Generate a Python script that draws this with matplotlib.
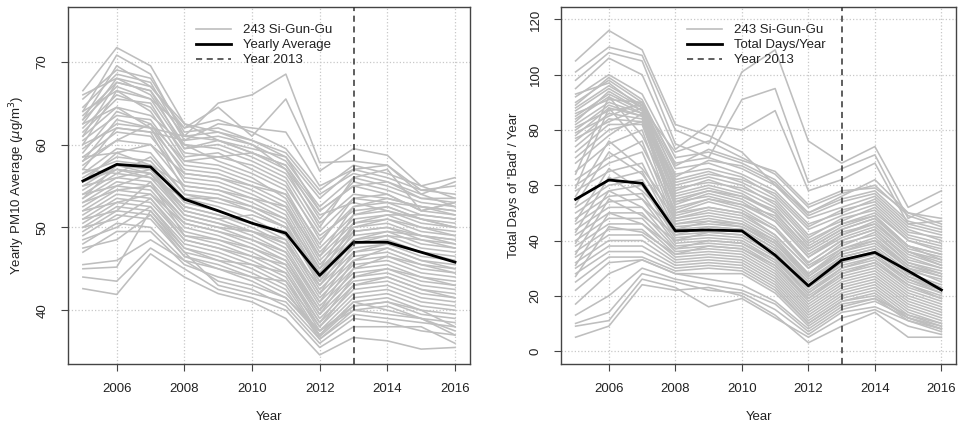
import numpy as np
import matplotlib
matplotlib.use('Agg')
import matplotlib.pyplot as plt
from matplotlib.lines import Line2D

plt.rcParams['font.family'] = ['Liberation Sans', 'DejaVu Sans']

# data
years = list(range(2005, 2017))
xticks = [2006, 2008, 2010, 2012, 2014, 2016]

pm10_mean = [55.6, 57.6, 57.3, 53.4, 52.0, 50.5, 49.3, 44.2, 48.2, 48.2, 47.0, 45.8]
bad_mean = [54.9, 61.9, 60.7, 43.5, 43.8, 43.5, 34.7, 23.6, 32.9, 35.7, 29.0, 22.1]

# a sample of the 243 district lines
pm10_lines = [
    [66.5, 71.7, 69.5, 62.5, 60.5, 59.0, 57.5, 52.0, 55.0, 54.0, 52.0, 53.0],
    [64.0, 70.8, 68.5, 61.0, 65.0, 66.0, 68.5, 57.8, 58.0, 57.5, 54.0, 55.5],
    [63.0, 69.5, 67.0, 62.0, 64.5, 61.0, 65.5, 56.8, 59.5, 58.7, 55.0, 56.0],
    [42.6, 41.9, 46.8, 44.0, 42.0, 41.0, 39.0, 34.6, 36.7, 36.3, 35.3, 35.5],
    [44.0, 43.5, 47.5, 45.0, 42.5, 41.5, 40.0, 35.5, 38.0, 38.0, 38.0, 36.0],
    [45.5, 46.0, 48.5, 46.0, 43.5, 42.5, 40.5, 36.0, 39.0, 38.5, 37.5, 37.0],
    [45.0, 45.2, 52.0, 47.0, 43.0, 42.0, 41.0, 36.5, 39.5, 39.0, 38.5, 38.0],
    [65.5, 69.0, 68.0, 61.5, 62.0, 60.5, 58.5, 53.5, 57.0, 56.0, 54.5, 54.0],
    [64.5, 68.5, 67.5, 60.5, 61.0, 60.0, 58.0, 52.5, 56.0, 55.0, 53.5, 53.5],
    [63.5, 67.5, 66.5, 61.0, 60.5, 59.0, 57.5, 51.0, 55.5, 54.5, 53.0, 52.5],
    [63.0, 67.0, 65.5, 59.5, 60.0, 58.5, 56.5, 50.5, 54.0, 53.5, 52.5, 52.0],
    [62.5, 68.0, 66.0, 60.0, 59.5, 58.0, 56.0, 49.5, 53.5, 54.0, 52.0, 51.5],
    [62.0, 66.0, 64.5, 59.0, 58.5, 57.5, 55.5, 48.5, 52.5, 53.0, 51.5, 51.0],
    [61.5, 65.5, 65.0, 58.5, 59.0, 57.0, 55.0, 49.0, 52.0, 52.5, 51.0, 50.5],
    [61.0, 64.5, 63.5, 60.0, 58.0, 56.5, 54.5, 47.5, 51.5, 52.0, 50.5, 50.0],
    [60.5, 63.5, 63.0, 57.5, 57.0, 55.5, 54.0, 47.0, 51.0, 51.5, 50.0, 49.5],
    [60.0, 66.5, 64.0, 58.0, 57.5, 56.0, 53.5, 46.5, 50.5, 51.0, 49.5, 49.0],
    [59.5, 62.5, 62.0, 57.0, 56.5, 55.0, 53.0, 46.0, 50.0, 50.5, 49.0, 48.5],
    [59.0, 64.0, 62.5, 56.5, 56.0, 54.5, 52.5, 45.5, 49.5, 50.0, 48.5, 48.0],
    [58.5, 61.5, 61.0, 56.0, 55.5, 54.0, 52.0, 45.0, 49.0, 49.5, 48.0, 47.5],
    [58.0, 63.0, 62.0, 55.5, 55.0, 53.5, 51.5, 44.5, 48.5, 49.0, 47.5, 47.0],
    [57.5, 60.5, 60.0, 55.0, 54.5, 53.0, 51.0, 44.0, 48.0, 48.5, 47.0, 46.5],
    [57.0, 62.0, 61.5, 54.5, 54.0, 52.5, 50.5, 43.5, 47.5, 48.0, 46.5, 46.0],
    [56.5, 59.5, 59.0, 54.0, 53.5, 52.0, 50.0, 43.0, 47.0, 47.5, 46.0, 45.5],
    [64.0, 66.5, 65.5, 62.0, 63.0, 61.5, 59.5, 54.5, 57.5, 56.5, 55.0, 53.5],
    [62.5, 64.5, 62.0, 61.0, 61.5, 60.5, 59.0, 54.0, 56.5, 55.5, 54.0, 52.5],
    [61.0, 67.5, 66.5, 59.5, 60.5, 59.5, 58.5, 52.0, 55.0, 55.5, 53.5, 53.0],
    [66.0, 68.0, 67.0, 62.5, 61.5, 60.0, 57.0, 51.5, 53.0, 52.0, 51.0, 50.0],
    [60.0, 62.0, 61.5, 60.5, 62.5, 62.0, 61.5, 55.0, 57.0, 57.5, 54.5, 55.0],
    [58.0, 60.5, 62.5, 58.0, 58.5, 59.0, 57.0, 50.0, 56.0, 57.0, 52.0, 53.0],
    [56.0, 58.5, 58.0, 53.5, 52.5, 51.0, 49.0, 42.5, 46.5, 47.0, 45.5, 45.0],
    [55.5, 59.0, 57.5, 53.0, 52.0, 50.5, 48.5, 42.0, 46.0, 46.5, 45.0, 44.5],
    [55.0, 57.5, 57.0, 52.5, 51.5, 50.0, 48.0, 41.5, 45.5, 46.0, 44.5, 44.0],
    [54.5, 57.0, 56.5, 52.0, 51.0, 49.5, 47.5, 41.0, 45.0, 45.5, 44.0, 43.5],
    [54.0, 56.5, 56.0, 51.5, 50.5, 49.0, 47.0, 40.5, 44.5, 45.0, 43.5, 43.0],
    [53.5, 56.0, 55.5, 51.0, 50.0, 48.5, 46.5, 40.0, 44.0, 44.5, 43.0, 42.5],
    [53.0, 55.5, 55.0, 50.5, 49.5, 48.0, 46.0, 39.5, 43.5, 44.0, 42.5, 42.0],
    [52.5, 55.0, 54.5, 50.0, 49.0, 47.5, 45.5, 39.0, 43.0, 43.5, 42.0, 41.5],
    [52.0, 54.5, 54.0, 49.5, 48.5, 47.0, 45.0, 38.5, 42.5, 43.0, 41.5, 41.0],
    [51.5, 54.0, 53.5, 49.0, 48.0, 46.5, 44.5, 38.0, 42.0, 42.5, 41.0, 40.5],
    [51.0, 53.5, 53.0, 48.5, 47.5, 46.0, 44.0, 37.5, 41.5, 42.0, 40.5, 40.0],
    [50.5, 53.0, 52.5, 48.0, 47.0, 45.5, 43.5, 37.0, 41.0, 41.5, 40.0, 39.5],
    [50.0, 52.5, 52.0, 47.5, 46.5, 45.0, 43.0, 36.8, 40.5, 41.0, 39.5, 39.0],
    [49.5, 52.0, 51.5, 47.0, 46.0, 44.5, 42.5, 36.5, 40.0, 40.5, 39.0, 38.5],
    [49.0, 51.5, 51.0, 46.5, 45.5, 44.0, 42.0, 37.5, 40.5, 41.0, 40.0, 38.0],
    [48.0, 50.5, 50.0, 46.0, 45.0, 43.5, 41.5, 37.0, 41.0, 40.0, 39.0, 37.5],
    [47.0, 49.5, 49.5, 45.5, 44.0, 43.0, 41.5, 37.5, 40.0, 39.5, 39.0, 37.0],
    [57.0, 56.5, 58.5, 54.0, 53.0, 52.0, 50.0, 44.5, 50.0, 51.0, 50.0, 49.0],
    [55.5, 57.0, 56.0, 53.5, 53.5, 52.5, 51.0, 45.0, 51.5, 52.5, 51.0, 50.0],
    [54.0, 55.0, 56.5, 52.5, 51.5, 50.5, 49.5, 43.5, 49.5, 50.0, 49.0, 48.0],
    [53.0, 54.5, 55.0, 51.0, 50.0, 49.5, 48.5, 42.0, 48.0, 49.0, 48.5, 47.5],
    [52.0, 53.0, 54.0, 50.5, 49.5, 48.5, 47.0, 41.0, 47.0, 48.0, 47.0, 46.0],
    [51.0, 52.0, 55.5, 49.0, 48.5, 47.5, 46.0, 40.0, 46.0, 47.5, 46.0, 45.0],
    [50.0, 51.0, 53.5, 48.5, 47.5, 46.5, 45.5, 39.5, 45.0, 46.5, 45.5, 44.5],
    [48.5, 50.0, 52.5, 47.5, 46.0, 45.5, 44.5, 38.5, 44.0, 45.0, 44.0, 43.0],
    [47.5, 48.5, 51.5, 46.5, 45.0, 44.0, 43.5, 38.0, 43.0, 44.0, 42.5, 41.5],
    [56.5, 58.0, 57.5, 55.0, 54.5, 53.5, 52.5, 46.5, 52.5, 53.5, 52.5, 52.0],
    [55.0, 56.0, 57.0, 52.0, 51.0, 51.5, 50.0, 44.0, 50.5, 51.5, 51.5, 51.0],
    [53.5, 57.5, 56.5, 51.5, 50.5, 49.5, 48.0, 43.0, 48.5, 49.5, 49.0, 48.5],
    [58.5, 59.0, 60.0, 56.5, 56.0, 55.0, 54.0, 48.0, 53.5, 53.0, 52.5, 51.5],
]

bad_lines = [
    [105, 116, 109, 82, 78, 72, 60, 50, 56, 62, 50, 48],
    [101, 110, 107, 80, 75, 101, 109, 76, 68, 74, 52, 58],
    [98, 108, 105, 75, 70, 91, 95, 61, 66, 71, 48, 54],
    [95, 106, 100, 73, 82, 80, 87, 58, 62, 68, 46, 47],
    [5, 9, 24, 22, 23, 20, 13, 3, 9, 14, 5, 5],
    [9, 11, 26, 23, 16, 19, 12, 5, 12, 15, 9, 6],
    [10, 14, 28, 25, 22, 21, 15, 6, 14, 16, 11, 7],
    [13, 20, 30, 26, 24, 22, 17, 7, 15, 18, 12, 8],
    [17, 28, 33, 28, 26, 24, 18, 8, 16, 19, 13, 9],
    [92, 100, 93, 70, 72, 68, 62, 50, 55, 58, 47, 44],
    [90, 98, 90, 68, 70, 66, 60, 48, 52, 56, 45, 42],
    [88, 96, 89, 66, 68, 64, 58, 46, 50, 55, 44, 40],
    [87, 95, 88, 64, 66, 63, 56, 44, 49, 53, 42, 39],
    [85, 93, 87, 62, 65, 61, 55, 42, 47, 52, 41, 38],
    [84, 92, 86, 60, 63, 60, 53, 40, 46, 50, 40, 36],
    [82, 90, 86, 58, 62, 58, 52, 38, 45, 49, 38, 35],
    [80, 89, 85, 57, 60, 57, 50, 37, 44, 48, 37, 34],
    [78, 88, 85, 55, 58, 55, 48, 35, 42, 47, 36, 33],
    [76, 86, 84, 53, 57, 54, 47, 34, 41, 45, 35, 31],
    [74, 84, 83, 52, 55, 52, 45, 32, 40, 44, 33, 30],
    [72, 82, 82, 50, 54, 51, 44, 31, 38, 43, 32, 29],
    [70, 80, 83, 49, 52, 50, 42, 30, 37, 41, 31, 28],
    [93, 97, 88, 72, 76, 70, 64, 52, 57, 60, 49, 45],
    [89, 99, 91, 67, 73, 69, 65, 53, 58, 59, 50, 46],
    [86, 91, 90, 63, 69, 67, 61, 49, 54, 57, 46, 43],
    [83, 94, 87, 61, 64, 62, 57, 45, 51, 54, 43, 41],
    [81, 87, 89, 59, 61, 59, 54, 41, 48, 51, 40, 37],
    [79, 85, 90, 56, 59, 56, 51, 39, 46, 49, 38, 35],
    [77, 83, 88, 54, 56, 53, 49, 36, 43, 46, 36, 32],
    [68, 78, 86, 48, 50, 48, 41, 28, 36, 40, 30, 27],
    [65, 75, 80, 47, 49, 47, 40, 27, 35, 38, 29, 26],
    [62, 70, 76, 46, 47, 46, 39, 26, 34, 37, 28, 24],
    [60, 68, 72, 45, 46, 45, 38, 25, 33, 36, 27, 23],
    [58, 65, 68, 44, 45, 44, 37, 24, 32, 35, 26, 22],
    [55, 62, 65, 43, 44, 43, 36, 23, 31, 34, 25, 21],
    [52, 60, 62, 42, 43, 42, 35, 22, 30, 33, 24, 20],
    [50, 58, 60, 41, 42, 41, 34, 21, 29, 32, 23, 19],
    [48, 56, 57, 40, 41, 40, 33, 20, 28, 31, 22, 18],
    [46, 54, 55, 39, 40, 39, 32, 19, 27, 30, 21, 17],
    [44, 52, 52, 38, 39, 38, 31, 18, 26, 29, 20, 16],
    [42, 50, 50, 37, 38, 37, 30, 17, 25, 28, 19, 15],
    [40, 48, 48, 36, 37, 36, 29, 16, 24, 27, 18, 14],
    [38, 46, 46, 35, 36, 35, 28, 15, 23, 26, 17, 13],
    [36, 44, 44, 34, 35, 34, 27, 14, 22, 25, 16, 12],
    [34, 42, 42, 33, 34, 33, 26, 13, 21, 24, 15, 11],
    [32, 40, 40, 32, 33, 32, 25, 12, 20, 23, 14, 10],
    [30, 38, 38, 31, 32, 31, 24, 11, 19, 22, 13, 10],
    [28, 36, 36, 30, 31, 30, 23, 10, 18, 21, 12, 9],
    [25, 34, 34, 29, 30, 29, 22, 10, 18, 20, 12, 8],
    [22, 32, 33, 28, 28, 28, 21, 9, 17, 19, 11, 8],
    [56, 76, 66, 50, 52, 50, 44, 32, 40, 44, 34, 30],
    [53, 72, 64, 48, 51, 49, 42, 30, 39, 42, 32, 28],
    [47, 66, 58, 46, 48, 46, 40, 28, 37, 40, 31, 27],
    [43, 63, 55, 44, 47, 45, 39, 27, 36, 39, 30, 25],
    [39, 58, 52, 42, 45, 44, 37, 25, 34, 37, 28, 23],
    [35, 55, 49, 40, 43, 42, 35, 23, 32, 36, 27, 22],
    [31, 50, 46, 37, 40, 39, 33, 21, 30, 34, 26, 21],
    [27, 45, 43, 35, 38, 37, 31, 19, 28, 32, 24, 19],
    [64, 92, 78, 54, 58, 56, 50, 37, 44, 48, 38, 33],
    [59, 88, 74, 51, 55, 53, 47, 34, 42, 46, 36, 31],
]

GRAY = '#bebebe'
TXT = '#222222'

fig = plt.figure(figsize=(9.66, 4.26), dpi=100)
ax1 = fig.add_axes([0.0704, 0.1455, 0.416, 0.838])
ax2 = fig.add_axes([0.5807, 0.1455, 0.409, 0.838])


def panel(ax, lines, mean, ylim, yticks, ylabel, mean_label):
    ax.grid(True, color='#c8c8c8', linestyle=':', linewidth=0.9)
    ax.set_axisbelow(True)
    for ln in lines:
        ax.plot(years, ln, color=GRAY, lw=1.15, zorder=2)
    ax.plot(years, mean, color='black', lw=2.0, zorder=3)
    ax.axvline(2013, color='#333333', lw=1.1, ls=(0, (4, 3)), zorder=4)
    ax.set_xlim(2004.56, 2016.44)
    ax.set_ylim(*ylim)
    ax.set_xticks(xticks)
    ax.set_yticks(yticks)
    ax.tick_params(direction='out', length=5, width=0.8, colors='#444444',
                   labelcolor=TXT, labelsize=9.5)
    ax.tick_params(axis='x', pad=9)
    ax.tick_params(axis='y', pad=9)
    for lab in ax.get_yticklabels():
        lab.set_rotation(90)
        lab.set_va('center')
    for s in ax.spines.values():
        s.set_color('#444444')
        s.set_linewidth(1.0)
    ax.set_xlabel('Year', fontsize=9.5, color=TXT, labelpad=11)
    ax.set_ylabel(ylabel, fontsize=9.5, color=TXT, labelpad=7)
    handles = [Line2D([], [], color=GRAY, lw=1.2),
               Line2D([], [], color='black', lw=2.0),
               Line2D([], [], color='#333333', lw=1.1, ls=(0, (4, 3)))]
    ax.legend(handles, ['243 Si-Gun-Gu', mean_label, 'Year 2013'],
              loc='upper left', bbox_to_anchor=(0.29, 0.985), frameon=False,
              fontsize=9.5, handlelength=2.6, handletextpad=0.9,
              labelspacing=0.2, labelcolor=TXT)


panel(ax1, pm10_lines, pm10_mean, (33.5, 76.6), [40, 50, 60, 70],
      r'Yearly PM10 Average ($\mu$g/m$^3$)', 'Yearly Average')
panel(ax2, bad_lines, bad_mean, (-4.7, 124.5), [0, 20, 40, 60, 80, 100, 120],
      "Total Days of 'Bad' / Year", 'Total Days/Year')

fig.savefig('out.png', dpi=100)
